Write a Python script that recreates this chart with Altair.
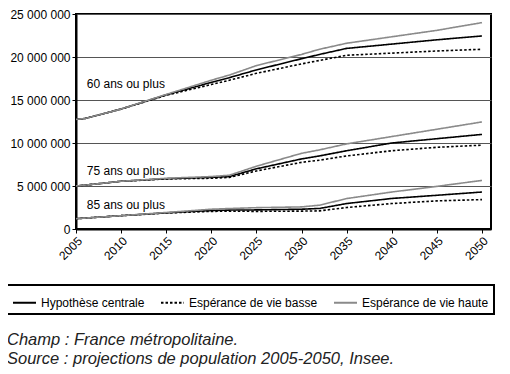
import altair as alt
import pandas as pd

# ---- data ----
years = [2005, 2006, 2010, 2015, 2020, 2022, 2025, 2030, 2032, 2035, 2040, 2045, 2050]

scenarios = ["Hypothèse centrale", "Espérance de vie basse", "Espérance de vie haute"]
groups = ["60 ans ou plus", "75 ans ou plus", "85 ans ou plus"]

# values in millions
p60_central = [12.75, 12.85, 13.95, 15.6, 17.05, 17.6, 18.5, 19.8, 20.3, 21.0, 21.5, 22.0, 22.45]
p60_basse   = [12.75, 12.85, 13.95, 15.55, 16.8, 17.3, 18.1, 19.2, 19.6, 20.2, 20.45, 20.7, 20.9]
p60_haute   = [12.75, 12.85, 13.95, 15.65, 17.3, 17.9, 19.0, 20.3, 20.9, 21.6, 22.35, 23.1, 24.0]

p75_central = [5.0, 5.1, 5.55, 5.85, 6.0, 6.1, 7.0, 8.15, 8.5, 9.1, 10.0, 10.5, 11.0]
p75_basse   = [5.0, 5.1, 5.55, 5.82, 5.9, 6.0, 6.75, 7.75, 8.0, 8.5, 9.1, 9.5, 9.75]
p75_haute   = [5.0, 5.1, 5.55, 5.9, 6.1, 6.25, 7.3, 8.8, 9.2, 9.9, 10.75, 11.6, 12.45]

p85_central = [1.2, 1.27, 1.55, 1.88, 2.15, 2.2, 2.22, 2.3, 2.39, 2.96, 3.55, 3.92, 4.3]
p85_basse   = [1.2, 1.27, 1.55, 1.86, 2.05, 2.07, 2.05, 2.08, 2.11, 2.5, 2.96, 3.27, 3.42]
p85_haute   = [1.2, 1.27, 1.55, 1.92, 2.3, 2.38, 2.48, 2.57, 2.77, 3.54, 4.3, 4.96, 5.65]

series = {
    ("60 ans ou plus", "Hypothèse centrale"): p60_central,
    ("60 ans ou plus", "Espérance de vie basse"): p60_basse,
    ("60 ans ou plus", "Espérance de vie haute"): p60_haute,
    ("75 ans ou plus", "Hypothèse centrale"): p75_central,
    ("75 ans ou plus", "Espérance de vie basse"): p75_basse,
    ("75 ans ou plus", "Espérance de vie haute"): p75_haute,
    ("85 ans ou plus", "Hypothèse centrale"): p85_central,
    ("85 ans ou plus", "Espérance de vie basse"): p85_basse,
    ("85 ans ou plus", "Espérance de vie haute"): p85_haute,
}

label_texts = ["60 ans ou plus", "75 ans ou plus", "85 ans ou plus"]
label_years = [2006.2, 2006.2, 2006.2]
label_values = [16.4, 6.29, 2.36]

x_ticks = list(range(2005, 2051, 5))
y_ticks = [0, 5_000_000, 10_000_000, 15_000_000, 20_000_000, 25_000_000]

notes = "Champ : France métropolitaine.\nSource : projections de population 2005-2050, Insee."

# ---- tables ----
rows = []
draw_order = {"Espérance de vie haute": 0, "Espérance de vie basse": 1, "Hypothèse centrale": 2}
for (g, s), vals in series.items():
    for y, v in zip(years, vals):
        rows.append({"annee": y, "population": v * 1_000_000, "groupe": g,
                     "scenario": s, "ordre": draw_order[s]})
df = pd.DataFrame(rows)

labels_df = pd.DataFrame({"annee": label_years,
                          "population": [v * 1_000_000 for v in label_values],
                          "texte": label_texts})
notes_df = pd.DataFrame({"note": [notes]})

FONT = "Liberation Sans"

x_scale = alt.Scale(domain=[2005, 2051], nice=False, zero=False)
y_scale = alt.Scale(domain=[0, 25_000_000], nice=False)

legend_opts = dict(title=None, orient="none", legendX=-69, legendY=271,
                   direction="horizontal", columns=3,
                   symbolType="stroke", symbolSize=529,
                   symbolStrokeWidth=2, labelFontSize=12,
                   labelColor="black", labelOffset=4,
                   columnPadding=12, padding=5,
                   strokeColor="black")

lines = alt.Chart(df).mark_line(strokeWidth=1.6).encode(
    x=alt.X("annee:Q", scale=x_scale, title=None,
            axis=alt.Axis(values=x_ticks, format="d", labelAngle=-45, grid=False,
                          domainColor="black", domainWidth=2, tickColor="black",
                          tickSize=4, labelFontSize=12, labelColor="black",
                          labelPadding=2)),
    y=alt.Y("population:Q", scale=y_scale, title=None,
            axis=alt.Axis(values=y_ticks, grid=True, gridColor="#555555", gridWidth=1,
                          domainColor="black", domainWidth=2, tickColor="black",
                          tickSize=4, labelFontSize=12, labelColor="black",
                          labelPadding=2,
                          labelExpr="replace(replace(format(datum.value, ','), ',', ' '), ',', ' ')")),
    color=alt.Color("scenario:N",
                    scale=alt.Scale(domain=scenarios, range=["#000000", "#000000", "#8a8a8a"]),
                    legend=alt.Legend(**legend_opts)),
    strokeDash=alt.StrokeDash("scenario:N",
                              scale=alt.Scale(domain=scenarios, range=[[1, 0], [2.5, 2], [1, 0]]),
                              legend=alt.Legend(**legend_opts)),
    detail="groupe:N",
    order=alt.Order("ordre:Q"),
)

labels = alt.Chart(labels_df).mark_text(align="left", baseline="alphabetic",
                                        fontSize=12, color="black").encode(
    x=alt.X("annee:Q", scale=x_scale),
    y=alt.Y("population:Q", scale=y_scale),
    text="texte:N",
)

footnote = alt.Chart(notes_df).mark_text(align="left", baseline="alphabetic",
                                         fontSize=16.5, fontStyle="italic", color="#222222",
                                         lineBreak="\n", lineHeight=19).encode(
    x=alt.value(-69),
    y=alt.value(331),
    text="note:N",
)

chart = alt.layer(lines, labels, footnote).properties(
    width=415, height=215,
    padding={"left": 68, "top": 6, "right": 11, "bottom": 145},
    autosize="none",
).configure(font=FONT).configure_view(stroke="black", strokeWidth=2
).configure_legend(strokeWidth=2)

chart.save("out.html", embed_options={"renderer": "svg", "actions": False})
